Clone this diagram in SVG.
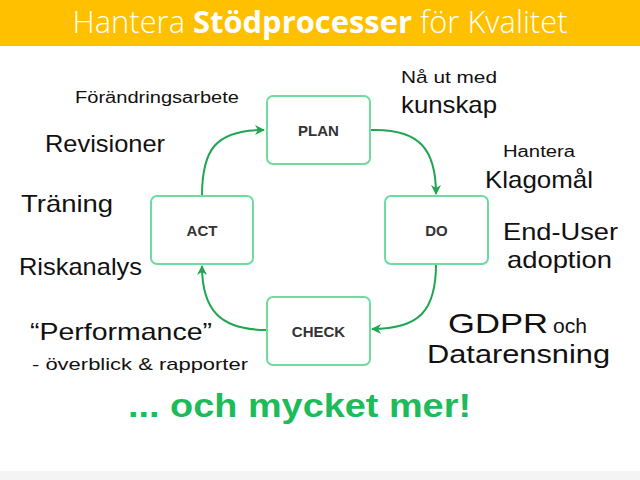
<svg xmlns="http://www.w3.org/2000/svg" width="640" height="480" viewBox="0 0 640 480">
<defs>
<style>
.box{fill:#fff;stroke:#6fdc9f;stroke-width:2}
.lbl{font-family:"Liberation Sans",Arial,sans-serif;font-weight:bold;font-size:15px;fill:#333;text-anchor:middle}
.arr{fill:none;stroke:#1ea650;stroke-width:2}
.hw{font-family:"Liberation Sans",Arial,sans-serif;fill:#111}
.title{font-family:"Open Sans","Liberation Sans",sans-serif;fill:#fff;font-size:31px}
</style>
<marker id="ah" viewBox="0 0 10 10" refX="9" refY="5" markerWidth="10" markerHeight="10" markerUnits="userSpaceOnUse" orient="auto">
<path d="M0,0 L10,5 L0,10 L3,5 Z" fill="#1ea650"/>
</marker>
</defs>
<rect x="0" y="0" width="640" height="480" fill="#fff"/>
<rect x="0" y="0" width="640" height="46" fill="#ffc000"/>
<rect x="0" y="471" width="640" height="9" fill="#f4f4f4"/>
<text class="title" x="320" y="33" text-anchor="middle" textLength="495" lengthAdjust="spacingAndGlyphs"><tspan font-weight="300">Hantera </tspan><tspan font-weight="bold">Stödprocesser</tspan><tspan font-weight="300"> för Kvalitet</tspan></text>

<g id="connectors">
<path class="arr" d="M202,196 C202,150 215,130 264,130" marker-end="url(#ah)"/>
<path class="arr" d="M370,130 C420,128 436,150 436,194" marker-end="url(#ah)"/>
<path class="arr" d="M436,264 C436,310 420,329 372,329" marker-end="url(#ah)"/>
<path class="arr" d="M267,330 C220,330 202,310 202,266" marker-end="url(#ah)"/>
</g>

<g id="plan"><rect class="box" x="267" y="96" width="103" height="68" rx="6"/><text class="lbl" x="318.5" y="135.5">PLAN</text></g>
<g id="do"><rect class="box" x="385" y="196" width="103" height="68" rx="6"/><text class="lbl" x="436.5" y="235.5">DO</text></g>
<g id="check"><rect class="box" x="267" y="297" width="103" height="68" rx="6"/><text class="lbl" x="318.5" y="336.5">CHECK</text></g>
<g id="act"><rect class="box" x="151" y="196" width="102" height="68" rx="6"/><text class="lbl" x="202" y="235.5">ACT</text></g>

<g id="annotations">
<text class="hw" x="75" y="103" font-size="16" textLength="164" lengthAdjust="spacingAndGlyphs">Förändringsarbete</text>
<text class="hw" x="45" y="152" font-size="24" textLength="120" lengthAdjust="spacingAndGlyphs">Revisioner</text>
<text class="hw" x="21" y="212" font-size="24" textLength="92" lengthAdjust="spacingAndGlyphs">Träning</text>
<text class="hw" x="19" y="275" font-size="24" textLength="123" lengthAdjust="spacingAndGlyphs">Riskanalys</text>
<text class="hw" x="30" y="340" font-size="24" textLength="182" lengthAdjust="spacingAndGlyphs">“Performance”</text>
<text class="hw" x="32" y="370" font-size="17" textLength="216" lengthAdjust="spacingAndGlyphs">- överblick &amp; rapporter</text>
<text class="hw" x="401" y="83" font-size="17" textLength="96" lengthAdjust="spacingAndGlyphs">Nå ut med</text>
<text class="hw" x="401" y="113" font-size="24" textLength="96" lengthAdjust="spacingAndGlyphs">kunskap</text>
<text class="hw" x="503" y="157" font-size="16" textLength="72" lengthAdjust="spacingAndGlyphs">Hantera</text>
<text class="hw" x="485" y="188" font-size="24" textLength="108" lengthAdjust="spacingAndGlyphs">Klagomål</text>
<text class="hw" x="503" y="240" font-size="24" textLength="115" lengthAdjust="spacingAndGlyphs">End-User</text>
<text class="hw" x="507" y="268" font-size="24" textLength="105" lengthAdjust="spacingAndGlyphs">adoption</text>
<text class="hw" x="448" y="333" font-size="28" textLength="100" lengthAdjust="spacingAndGlyphs">GDPR</text>
<text class="hw" x="553" y="333" font-size="20" textLength="34" lengthAdjust="spacingAndGlyphs">och</text>
<text class="hw" x="427" y="363" font-size="26" textLength="183" lengthAdjust="spacingAndGlyphs">Datarensning</text>
<text class="hw" x="128" y="417" font-size="34" font-weight="bold" style="fill:#1dbb5a" textLength="343" lengthAdjust="spacingAndGlyphs">... och mycket mer!</text>
</g>
</svg>
